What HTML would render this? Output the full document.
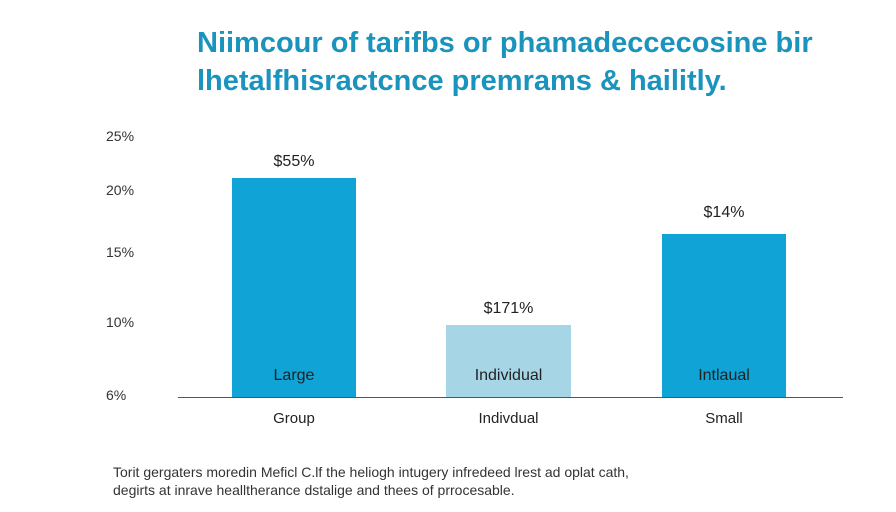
<!DOCTYPE html>
<html><head><meta charset="utf-8"><style>
body{margin:0;width:896px;height:512px;background:#fff;position:relative;overflow:hidden;font-family:"Liberation Sans",sans-serif;}
.t{position:absolute;white-space:nowrap;}
.title{left:197px;color:#1a93bd;font-weight:bold;font-size:29px;letter-spacing:0px;}
.y{left:106px;font-size:14px;color:#333;}
.bar{position:absolute;background:#0fa3d6;}
.lbl{font-size:16px;color:#222;text-align:center;}
</style></head><body>
<div class="t title" style="top:27px">Niimcour of tarifbs or phamadeccecosine bir</div>
<div class="t title" style="top:65px">lhetalfhisractcnce premrams &amp; hailitly.</div>
<div class="t y" style="top:128px">25%</div>
<div class="t y" style="top:182px">20%</div>
<div class="t y" style="top:244px">15%</div>
<div class="t y" style="top:314px">10%</div>
<div class="t y" style="top:387px">6%</div>
<div style="position:absolute;left:178px;top:397px;width:665px;height:1px;background:#555"></div>
<div class="bar" style="left:232px;top:178px;width:124px;height:219px"></div>
<div class="bar" style="left:446px;top:325px;width:125px;height:72px;background:#a6d6e6"></div>
<div class="bar" style="left:662px;top:234px;width:124px;height:163px"></div>
<div class="t lbl" style="left:232px;width:124px;top:153px">$55%</div>
<div class="t lbl" style="left:446px;width:125px;top:300px">$171%</div>
<div class="t lbl" style="left:662px;width:124px;top:204px">$14%</div>
<div class="t lbl" style="left:232px;width:124px;top:367px">Large</div>
<div class="t lbl" style="left:446px;width:125px;top:367px">Individual</div>
<div class="t lbl" style="left:662px;width:124px;top:367px">Intlaual</div>
<div class="t lbl" style="left:232px;width:124px;top:410px;font-size:15px">Group</div>
<div class="t lbl" style="left:446px;width:125px;top:410px;font-size:15px">Indivdual</div>
<div class="t lbl" style="left:662px;width:124px;top:410px;font-size:15px">Small</div>
<div class="t" style="left:113px;top:464px;font-size:14px;color:#333">Torit gergaters moredin Meficl C.lf the heliogh intugery infredeed lrest ad oplat cath,</div>
<div class="t" style="left:113px;top:482px;font-size:14px;color:#333">degirts at inrave healltherance dstalige and thees of prrocesable.</div>
</body></html>
